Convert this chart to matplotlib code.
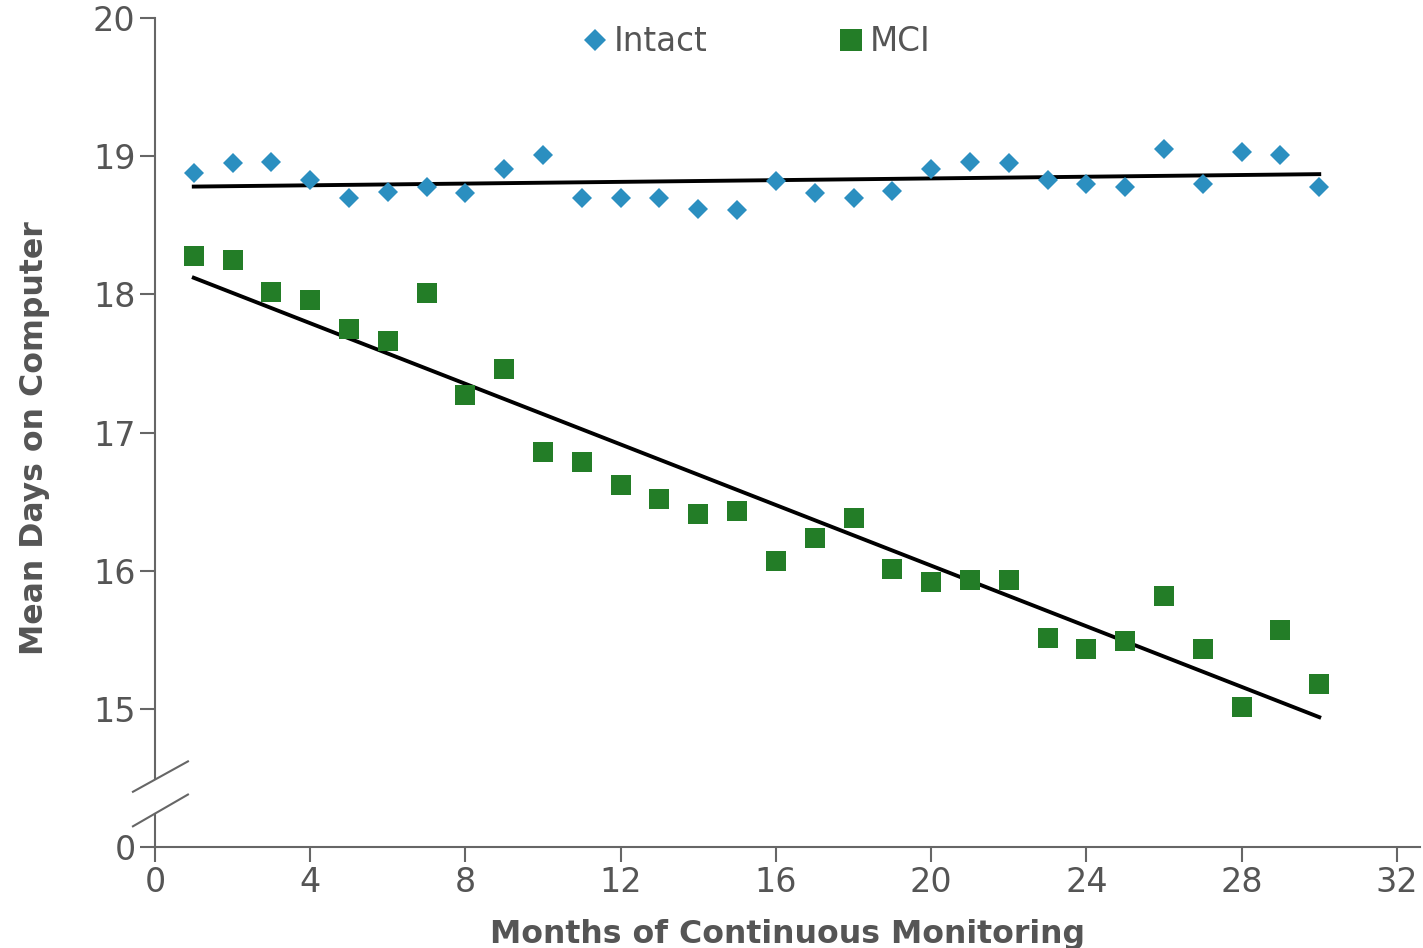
import matplotlib.pyplot as plt
import numpy as np

# months 1..30
months = np.arange(1, 31)

intact = [18.88, 18.95, 18.96, 18.83, 18.70, 18.74, 18.78, 18.73, 18.91, 19.01,
          18.70, 18.70, 18.70, 18.62, 18.61, 18.82, 18.73, 18.70, 18.75, 18.91,
          18.96, 18.95, 18.83, 18.80, 18.78, 19.05, 18.80, 19.03, 19.01, 18.78]

mci = [18.28, 18.25, 18.02, 17.96, 17.75, 17.66, 18.01, 17.27, 17.46, 16.86,
       16.79, 16.62, 16.52, 16.41, 16.43, 16.07, 16.24, 16.38, 16.01, 15.92,
       15.93, 15.93, 15.51, 15.43, 15.49, 15.82, 15.43, 15.01, 15.57, 15.18]

# trend line end points
trend_x = [1, 30]
intact_trend = [18.78, 18.87]
mci_trend = [18.12, 14.94]

# axis is broken: real value 0 is drawn where 14 would be
yticks = [14, 15, 16, 17, 18, 19, 20]
ytick_labels = ['0', '15', '16', '17', '18', '19', '20']
xticks = [0, 4, 8, 12, 16, 20, 24, 28, 32]

gray = '#555555'
axcol = '#666666'

fig = plt.figure(figsize=(14.23, 9.48), dpi=100)
ax = fig.add_axes([0.1089, 0.1065, 0.8891, 0.8745])

ax.plot(months, intact, linestyle='none', marker='D', markersize=10.2,
        color='#2b8fc0', markeredgewidth=0, label='Intact', zorder=3)
ax.plot(months, mci, linestyle='none', marker='s', markersize=13.7,
        color='#237d27', markeredgewidth=0, label='MCI', zorder=3)
ax.plot(trend_x, intact_trend, color='black', lw=2.8, zorder=2)
ax.plot(trend_x, mci_trend, color='black', lw=2.8, zorder=2)

ax.set_xlim(0, 32.6)
ax.set_ylim(14, 20)
ax.set_xticks(xticks)
ax.set_yticks(yticks)
ax.set_yticklabels(ytick_labels)

for s in ['top', 'right', 'left']:
    ax.spines[s].set_visible(False)
ax.spines['bottom'].set_color(axcol)
ax.spines['bottom'].set_linewidth(1.5)

# broken left spine
ax.plot([0, 0], [14.5, 20], color=axcol, lw=1.5, clip_on=False)
ax.plot([0, 0], [14, 14.24], color=axcol, lw=1.5, clip_on=False)
ax.plot([-0.567, 0.85], [14.40, 14.62], color=axcol, lw=1.5, clip_on=False)
ax.plot([-0.567, 0.85], [14.15, 14.38], color=axcol, lw=1.5, clip_on=False)

ax.tick_params(axis='both', colors=axcol, width=1.5, length=11,
               labelsize=24, labelcolor=gray, pad=3)

ax.set_xlabel('Months of Continuous Monitoring', fontsize=22.7,
              fontweight='bold', color=gray, labelpad=14)
ax.set_ylabel('Mean Days on Computer', fontsize=22.7,
              fontweight='bold', color=gray)
ax.yaxis.set_label_coords(-0.083, 0.493)

ax.legend(loc='upper center', bbox_to_anchor=(0.475, 1.027), ncol=2,
          frameon=False, fontsize=23.5, labelcolor=gray, handletextpad=0.17,
          columnspacing=4.0, handlelength=0.8, markerscale=1.12)

fig.savefig('out.png', dpi=100)
